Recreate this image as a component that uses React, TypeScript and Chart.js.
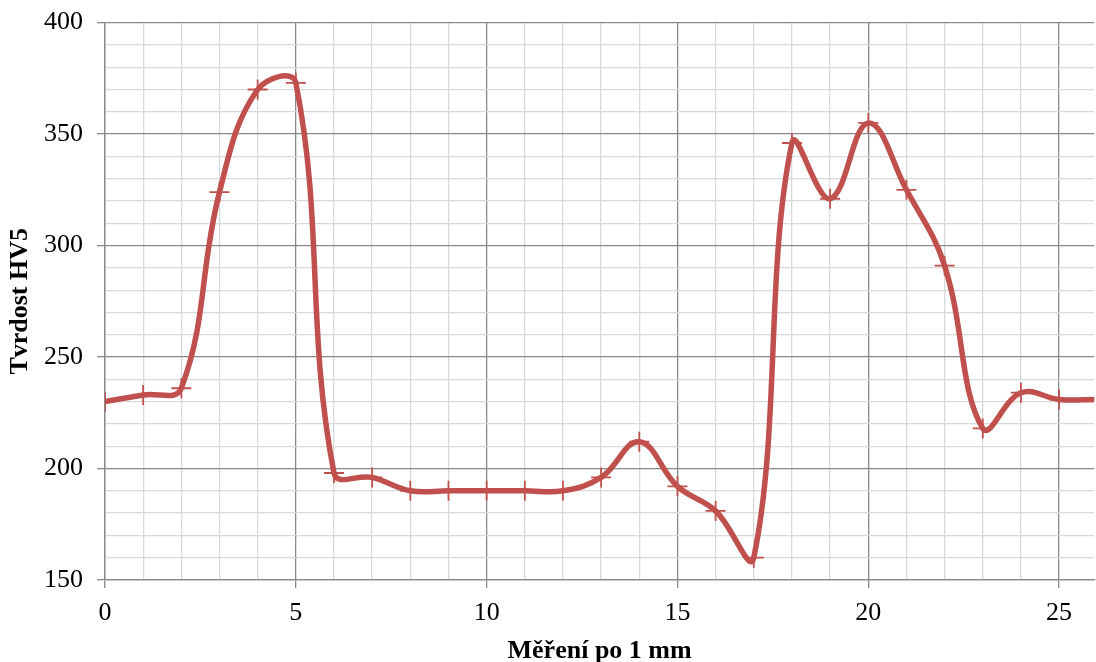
import React, { useEffect, useRef } from "react";
import { Chart, registerables } from "chart.js";

Chart.register(...registerables);

const positions = [0, 1, 2, 3, 4, 5, 6, 7, 8, 9, 10, 11, 12, 13, 14, 15, 16, 17, 18, 19, 20, 21, 22, 23, 24, 25, 26];
const hardness = [230, 233, 236, 324, 370, 373, 198, 196, 190, 190, 190, 190, 190, 196, 212, 192, 181, 160, 346, 321, 355, 325, 291, 218, 234, 231, 231];
const xTickValues = [0, 1, 2, 3, 4, 5, 6, 7, 8, 9, 10, 11, 12, 13, 14, 15, 16, 17, 18, 19, 20, 21, 22, 23, 24, 25];
const xAxisTitle = "Měření po 1 mm";
const yAxisTitle = "Tvrdost HV5";

const FONT = '"Liberation Serif", "Times New Roman", serif';
const RED = "#C0504D";
const MAJOR = "#898989";
const MINOR = "#d9d9d9";

export default function App() {
  const ref = useRef<HTMLCanvasElement>(null);

  useEffect(() => {
    if (!ref.current) return;
    const chart = new Chart(ref.current, {
      type: "line",
      data: {
        datasets: [
          {
            data: positions.map((x, i) => ({ x, y: hardness[i] })),
            borderColor: RED,
            backgroundColor: RED,
            borderWidth: 5.5,
            tension: 0.4,
            pointStyle: "cross",
            pointRadius: 10,
            pointBorderWidth: 1.8,
            pointBorderColor: RED,
            pointHoverRadius: 10,
            fill: false,
          },
        ],
      },
      options: {
        responsive: false,
        animation: false,
        layout: { padding: { left: 5, top: 1, right: 0, bottom: -5 } },
        plugins: { legend: { display: false }, tooltip: { enabled: false } },
        scales: {
          x: {
            type: "linear",
            min: 0,
            max: 25.92,
            afterBuildTicks: (axis: any) => {
              axis.ticks = xTickValues.map((v) => ({ value: v }));
            },
            afterFit: (axis: any) => {
              axis.height = 87;
            },
            ticks: {
              autoSkip: false,
              maxRotation: 0,
              color: "#000",
              padding: 10,
              font: { family: FONT, size: 26 },
              callback: (v: any) => (Number(v) % 5 === 0 ? String(v) : ""),
            },
            grid: {
              color: (c: any) => (c.tick && c.tick.value % 5 === 0 ? MAJOR : MINOR),
              lineWidth: 1.3,
              tickLength: 8,
              tickColor: (c: any) => (c.tick && c.tick.value % 5 === 0 ? MAJOR : "rgba(0,0,0,0)"),
            },
            border: { color: MAJOR, width: 1.3 },
            title: {
              display: true,
              text: xAxisTitle,
              color: "#000",
              font: { family: FONT, size: 26, weight: "bold" },
              padding: { top: 4, bottom: 0 },
            },
          },
          y: {
            min: 150,
            max: 400,
            afterFit: (axis: any) => {
              axis.width = 100;
            },
            ticks: {
              stepSize: 10,
              autoSkip: false,
              color: "#000",
              padding: 14,
              font: { family: FONT, size: 26 },
              callback: (v: any) => (Number(v) % 50 === 0 ? String(v) : ""),
            },
            grid: {
              color: (c: any) => (c.tick && c.tick.value % 50 === 0 ? MAJOR : MINOR),
              lineWidth: 1.3,
              tickLength: 8,
              tickColor: (c: any) => (c.tick && c.tick.value % 50 === 0 ? MAJOR : "rgba(0,0,0,0)"),
            },
            border: { color: MAJOR, width: 1.3 },
            title: {
              display: true,
              text: yAxisTitle,
              color: "#000",
              font: { family: FONT, size: 26, weight: "bold" },
              padding: { top: 0, bottom: 4 },
            },
          },
        },
      },
    } as any);
    return () => chart.destroy();
  }, []);

  return (
    <div style={{ position: "absolute", left: 0, top: 0, width: 1096, height: 662, overflow: "hidden", background: "#fff" }}>
      <canvas
        ref={ref}
        width={1106}
        height={669}
        style={{ display: "block", position: "absolute", left: 0, top: -7 }}
      />
    </div>
  );
}
